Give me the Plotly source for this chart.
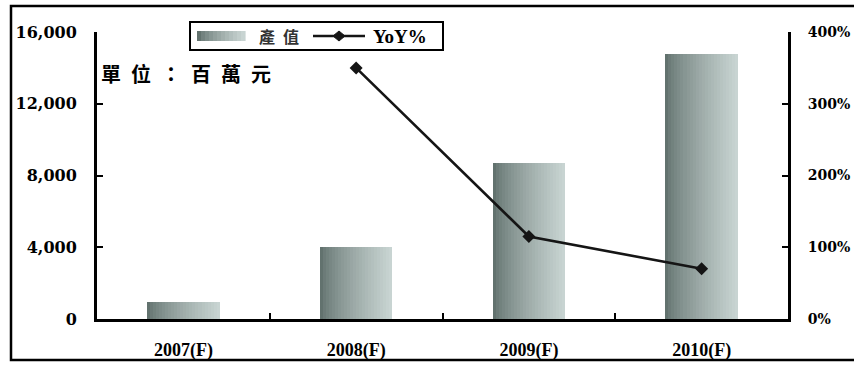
import plotly.graph_objects as go

# Data
years = ["2007(F)", "2008(F)", "2009(F)", "2010(F)"]
output_value = [950, 4000, 8700, 14800]          # 產值, 百萬元
yoy_years = ["2008(F)", "2009(F)", "2010(F)"]
yoy_pct = [350, 115, 70]                         # YoY %
left_ticks = [0, 4000, 8000, 12000, 16000]
right_ticks = [0, 100, 200, 300, 400]
right_labels = [f"{v}%" for v in right_ticks]

W, H = 854, 365
L, R, T, B = 97, 788, 32, 319   # plot area edges in pixels


def px(x):
    return (x - L) / (R - L)


def py(y):
    return (B - y) / (B - T)


def mix(c1, c2, t):
    return "rgb({},{},{})".format(*[round(a + (b - a) * t) for a, b in zip(c1, c2)])


DARK = (98, 114, 110)
LIGHT = (200, 212, 210)
SERIF = "Liberation Serif"

fig = go.Figure()

# Bars with a horizontal grey-green gradient, built from narrow overlaid strips
bar_w = 0.42
n_strips = 24
step = bar_w / n_strips
for i in range(n_strips):
    t = (i / (n_strips - 1)) ** 0.75
    w = step * 1.6 if i < n_strips - 1 else step
    fig.add_trace(go.Bar(
        x=years, y=output_value,
        width=w, offset=-bar_w / 2 + i * step,
        marker=dict(color=mix(DARK, LIGHT, t), line=dict(width=0)),
        showlegend=False, hoverinfo="skip" if i else None,
    ))

fig.add_trace(go.Scatter(
    x=yoy_years, y=yoy_pct, yaxis="y2", mode="lines+markers",
    line=dict(color="#151515", width=2.6),
    marker=dict(symbol="diamond", size=10, color="#151515"),
    showlegend=False,
))

shapes = [
    # outer frame
    dict(type="rect", xref="paper", yref="paper",
         x0=px(11), x1=px(880), y0=py(360), y1=py(6),
         line=dict(color="black", width=2.5)),
    # legend box
    dict(type="rect", xref="paper", yref="paper",
         x0=px(190), x1=px(443), y0=py(50), y1=py(22),
         line=dict(color="black", width=2), fillcolor="white"),
    # legend line sample
    dict(type="line", xref="paper", yref="paper",
         x0=px(313), x1=px(365), y0=py(36), y1=py(36),
         line=dict(color="#151515", width=2.5)),
    # legend diamond
    dict(type="path", xref="paper", yref="paper",
         path="M {},{} L {},{} L {},{} L {},{} Z".format(
             px(333), py(36), px(339), py(31), px(345), py(36), px(339), py(41)),
         fillcolor="#151515", line=dict(color="#151515", width=1)),
]
# legend gradient swatch
sw_n = 12
for i in range(sw_n):
    x0 = 197 + i * 48 / sw_n
    shapes.append(dict(type="rect", xref="paper", yref="paper",
                       x0=px(x0), x1=px(x0 + 48 / sw_n + 0.6),
                       y0=py(41), y1=py(31),
                       fillcolor=mix(DARK, LIGHT, (i / (sw_n - 1)) ** 0.75),
                       line=dict(width=0)))

annotations = [
    dict(text="產\u2002值", xref="paper", yref="paper", x=px(257), y=py(36),
         xanchor="left", yanchor="middle", showarrow=False,
         font=dict(family="Noto Sans CJK TC", size=16, color="#333", weight="bold")),
    dict(text="<b>YoY%</b>", xref="paper", yref="paper", x=px(371), y=py(36),
         xanchor="left", yanchor="middle", showarrow=False,
         font=dict(family=SERIF, size=19, color="black")),
    dict(text="\u2002".join("單位：百萬元"), xref="paper", yref="paper",
         x=px(99), y=py(73), xanchor="left", yanchor="middle", showarrow=False,
         font=dict(family="Noto Sans CJK TC", size=20, color="black", weight="bold")),
]

axis_common = dict(
    showline=True, linecolor="black", linewidth=3,
    ticks="inside", ticklen=6, tickwidth=2, tickcolor="black",
    showgrid=False, zeroline=False, automargin=False,
)

fig.update_layout(
    width=W, height=H,
    margin=dict(l=L, r=W - R, t=T, b=H - B, autoexpand=False),
    paper_bgcolor="white", plot_bgcolor="white",
    barmode="overlay", bargap=0,
    showlegend=False,
    xaxis=dict(
        type="category", categoryorder="array", categoryarray=years,
        tickson="boundaries",
        tickfont=dict(family=SERIF, size=18, color="black", weight="bold"),
        ticklabelstandoff=12, **axis_common,
    ),
    yaxis=dict(
        range=[0, 16000], tickvals=left_ticks, tickformat=",",
        tickfont=dict(family="DejaVu Serif", size=16, color="black", weight="bold"),
        ticklabelstandoff=14, **axis_common,
    ),
    yaxis2=dict(
        range=[0, 400], tickvals=right_ticks, ticktext=right_labels,
        overlaying="y", side="right",
        tickfont=dict(family="DejaVu Serif", size=14, color="black", weight="bold"),
        ticklabelstandoff=14, **axis_common,
    ),
    shapes=shapes,
    annotations=annotations,
)

fig.write_html("out.html")
